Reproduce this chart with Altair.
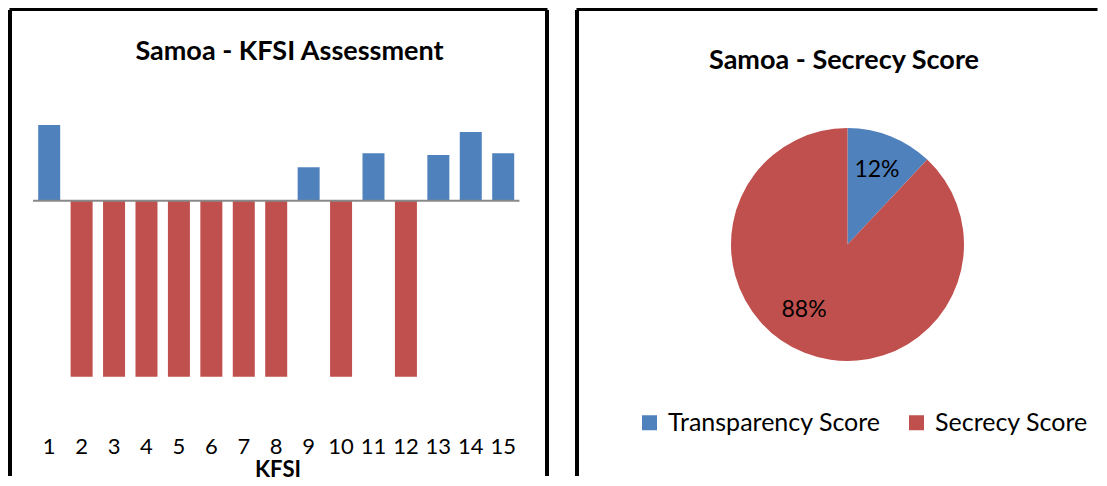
import altair as alt
import pandas as pd

# ---- data ----
kfsi = list(range(1, 16))
kfsi_values = [43, -100, -100, -100, -100, -100, -100, -100, 19, -100, 27, -100, 26, 39, 27]
tick_labels = [str(k) for k in kfsi]

pie_labels = ["Transparency Score", "Secrecy Score"]
pie_shares = [12, 88]

left_title = "Samoa - KFSI Assessment"
right_title = "Samoa - Secrecy Score"
x_title = "KFSI"

BLUE = "#4F81BD"
RED = "#C0504D"
FONT = "Lato"

LW, RW, H = 541, 524, 470

bars_df = pd.DataFrame({"kfsi": kfsi, "value": kfsi_values, "label": tick_labels})
bars_df["kind"] = ["Transparency" if v > 0 else "Secrecy" for v in kfsi_values]

cum = pd.Series(pie_shares).cumsum()
pie_df = pd.DataFrame({"label": pie_labels, "share": pie_shares,
                       "hi": cum, "lo": cum - pd.Series(pie_shares)})
pie_df["mid"] = (pie_df["lo"] + pie_df["hi"]) / 2
pie_df["pct"] = [f"{s}%" for s in pie_shares]

base_df = pd.DataFrame({"lo": [min(kfsi) - 0.5], "hi": [max(kfsi) + 0.5], "zero": [0]})
lt_df = pd.DataFrame({"t": [left_title]})
xt_df = pd.DataFrame({"t": [x_title]})
rt_df = pd.DataFrame({"t": [right_title]})

xs = alt.Scale(domain=[-0.2704, 16.412], nice=False, zero=False, padding=0)
ys = alt.Scale(domain=[-157.56, 109.49], nice=False, zero=False)


def borders(df, width, right=True):
    layers = [
        alt.Chart(df).mark_rule(color="black", strokeWidth=4).encode(
            x=alt.value(2), y=alt.value(2), y2=alt.value(H - 2), detail="t:N"),
        alt.Chart(df).mark_rule(color="black", strokeWidth=3).encode(
            x=alt.value(1.5), x2=alt.value(width - 1.5), y=alt.value(1.5), detail="t:N"),
    ]
    if right:
        layers.append(alt.Chart(df).mark_rule(color="black", strokeWidth=4).encode(
            x=alt.value(width - 2), y=alt.value(2), y2=alt.value(H - 2), detail="t:N"))
    return layers


base = alt.Chart(bars_df)
bars = base.mark_bar(size=22).encode(
    x=alt.X("kfsi:Q", scale=xs, axis=None),
    y=alt.Y("value:Q", scale=ys, axis=None),
    y2=alt.datum(0),
    color=alt.Color("kind:N", scale=alt.Scale(domain=["Transparency", "Secrecy"], range=[BLUE, RED]), legend=None),
)
baseline = alt.Chart(base_df).mark_rule(color="#898989", strokeWidth=2).encode(
    x=alt.X("lo:Q", scale=xs, axis=None), x2="hi:Q", y=alt.Y("zero:Q", scale=ys, axis=None))
ticks = base.mark_text(font=FONT, fontSize=22, color="black", baseline="middle").encode(
    x=alt.X("kfsi:Q", scale=xs, axis=None), y=alt.value(439), text="label:N")
xtitle = alt.Chart(xt_df).mark_text(font=FONT, fontSize=22, fontWeight="bold", color="black",
                                    baseline="middle").encode(
    x=alt.value(270), y=alt.value(462), text="t:N")
ltitle = alt.Chart(lt_df).mark_text(font=FONT, fontSize=27, fontWeight="bold", color="black",
                                    baseline="middle").encode(
    x=alt.value(281.5), y=alt.value(44), text="t:N")

left = alt.layer(bars, baseline, ticks, xtitle, ltitle, *borders(lt_df, LW)).properties(width=LW, height=H)

CX, CY, R = 272.5, 236.5, 116.5
ts = alt.Scale(domain=[0, 100], range=[0, 6.283185307179586])
arc = alt.Chart(pie_df).mark_arc(outerRadius=R).encode(
    theta=alt.Theta("lo:Q", scale=ts),
    theta2="hi:Q",
    color=alt.Color("label:N", scale=alt.Scale(domain=pie_labels, range=[BLUE, RED]),
                    legend=alt.Legend(orient="none", legendX=62, legendY=402, direction="horizontal",
                                      title=None, symbolType="square", symbolSize=225,
                                      symbolStrokeWidth=0, symbolOpacity=1,
                                      labelFont=FONT, labelFontSize=25, labelColor="black",
                                      labelOffset=6, columnPadding=23, labelLimit=400)),
    x=alt.value(CX), y=alt.value(CY),
)
lab12 = alt.Chart(pie_df.iloc[[0]]).mark_text(
    font=FONT, fontSize=23, color="black", radius=80, baseline="middle").encode(
    theta=alt.Theta("mid:Q", scale=ts), text="pct:N", x=alt.value(CX), y=alt.value(CY))
lab88 = alt.Chart(pie_df.iloc[[1]]).mark_text(
    font=FONT, fontSize=23, color="black", radius=80, baseline="middle", dx=-14, dy=-9).encode(
    theta=alt.Theta("mid:Q", scale=ts), text="pct:N", x=alt.value(CX), y=alt.value(CY))
rtitle = alt.Chart(rt_df).mark_text(font=FONT, fontSize=27, fontWeight="bold", color="black",
                                    baseline="middle").encode(
    x=alt.value(269), y=alt.value(53), text="t:N")

right = alt.layer(arc, lab12, lab88, rtitle, *borders(rt_df, RW, right=False)).properties(width=RW, height=H)

chart = (
    alt.hconcat(left, right, spacing=26)
    .resolve_scale(color="independent")
    .resolve_legend(color="independent")
    .properties(padding=0)
    .configure_view(stroke=None)
)

chart.save("out.html", embed_options={"renderer": "svg", "actions": False})
